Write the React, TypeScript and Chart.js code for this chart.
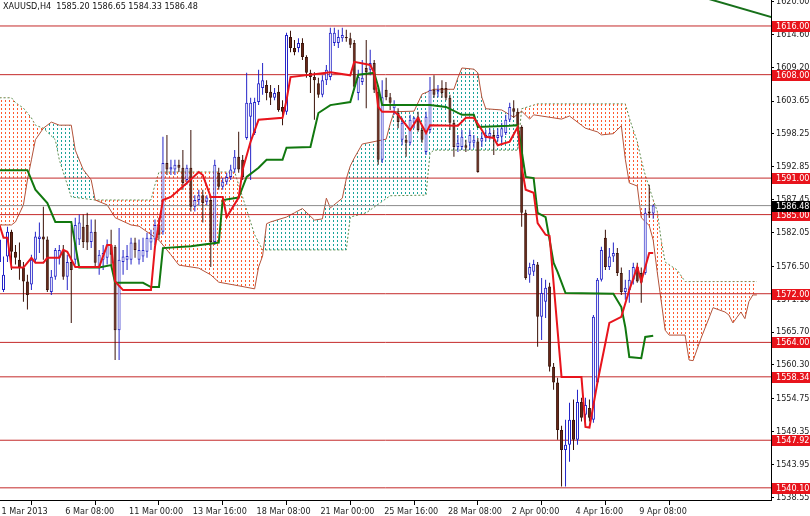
import React, { useEffect, useRef } from 'react';
import { Chart, registerables } from 'chart.js';

Chart.register(...registerables);

const FONT = "'DejaVu Sans Condensed', 'Liberation Sans', Arial, sans-serif";
const TITLE = 'XAUUSD,H4  1585.20 1586.65 1584.33 1586.48';

// ---- candles (H4 bars, index 0 = 1 Mar 16:00) ----
const opens = [
  1577.2,1572.6,1578.1,1582.2,1578.9,1577.6,1576.3,1574.0,1573.5,1577.6,
  1581.0,1581.4,1580.9,1572.3,1574.8,1577.9,1579.2,1574.8,1577.2,1577.6,
  1580.9,1583.0,1583.3,1580.5,1582.2,1576.4,1577.6,1577.9,1580.0,1579.7,
  1566.0,1577.2,1577.6,1577.6,1580.4,1577.6,1578.1,1578.9,1580.4,1580.9,
  1583.3,1582.2,1593.5,1592.4,1592.4,1593.2,1592.7,1590.7,1592.7,1586.3,
  1587.4,1588.2,1587.1,1587.4,1580.5,1591.9,1589.6,1590.4,1591.2,1592.4,
  1594.5,1594.0,1597.6,1601.1,1598.4,1603.5,1605.8,1606.3,1605.2,1604.2,
  1605.2,1602.7,1601.9,1614.2,1612.4,1612.4,1613.2,1610.9,1608.3,1607.6,
  1606.6,1604.7,1607.1,1607.6,1613.2,1613.2,1614.0,1614.2,1614.0,1613.2,
  1605.0,1606.8,1609.1,1608.8,1609.9,1605.2,1594.0,1605.5,1604.3,1602.5,
  1601.7,1597.3,1597.3,1596.8,1600.1,1601.1,1598.9,1595.3,1598.9,1605.5,
  1605.2,1605.8,1605.8,1604.2,1600.1,1596.1,1596.1,1596.4,1596.8,1596.8,
  1597.0,1597.0,1597.6,1597.8,1598.1,1597.6,1597.8,1598.4,1600.6,1602.5,
  1601.9,1599.4,1585.3,1575.1,1575.6,1576.8,1568.2,1570.7,1573.2,1560.0,
  1557.4,1549.6,1546.3,1547.2,1551.3,1548.0,1554.2,1552.1,1553.2,1551.3,
  1557.4,1574.3,1581.2,1576.4,1578.1,1578.7,1575.4,1572.3,1572.6,1574.3,
  1576.4,1575.4,1575.4,1585.5,1585.2,
];
const highs = [
  1582.8,1578.1,1583.0,1582.5,1580.0,1580.4,1577.2,1575.1,1578.4,1582.2,
  1583.7,1586.3,1581.4,1575.9,1579.5,1580.0,1580.0,1578.4,1583.3,1584.5,
  1585.0,1585.0,1585.3,1584.2,1584.2,1579.2,1580.0,1580.9,1582.5,1580.0,
  1582.8,1579.2,1580.0,1581.2,1581.2,1580.9,1581.2,1582.0,1582.5,1584.2,
  1584.5,1597.8,1598.1,1594.0,1594.0,1594.0,1595.6,1593.2,1598.9,1588.2,
  1589.1,1589.1,1588.2,1587.9,1594.0,1592.7,1591.0,1591.9,1593.2,1595.6,
  1598.6,1594.8,1608.3,1604.2,1604.2,1608.8,1609.9,1607.1,1606.3,1605.8,
  1606.3,1603.8,1614.9,1615.2,1613.7,1614.0,1614.0,1611.2,1608.8,1608.4,
  1607.5,1607.9,1609.6,1615.7,1615.7,1615.4,1615.7,1615.4,1614.9,1613.7,
  1608.8,1610.4,1613.7,1612.1,1610.4,1605.8,1607.1,1607.5,1605.0,1603.8,
  1602.5,1600.9,1598.1,1601.4,1601.1,1601.9,1599.7,1601.9,1607.6,1607.9,
  1606.3,1607.1,1606.8,1604.7,1600.6,1598.1,1598.9,1597.3,1598.9,1598.1,
  1597.6,1598.4,1598.9,1599.2,1598.9,1599.2,1600.1,1601.4,1603.4,1603.8,
  1602.5,1599.7,1585.8,1577.1,1577.6,1577.2,1574.6,1574.3,1573.8,1560.6,
  1558.2,1550.3,1551.3,1554.1,1554.6,1556.2,1554.9,1554.9,1554.6,1568.5,
  1574.6,1579.7,1582.5,1579.5,1580.4,1579.5,1576.3,1574.3,1575.9,1577.1,
  1577.1,1576.3,1586.1,1589.9,1586.65,
];
const lows = [
  1575.9,1572.3,1577.2,1575.9,1576.8,1574.3,1570.7,1569.4,1572.6,1577.2,
  1578.7,1577.6,1572.3,1571.8,1574.3,1576.8,1574.3,1572.6,1567.2,1576.8,
  1580.0,1579.5,1579.2,1579.5,1576.3,1575.1,1575.9,1576.8,1576.8,1561.1,
  1561.1,1575.1,1575.9,1576.8,1577.9,1576.8,1577.2,1577.9,1579.2,1580.0,
  1580.9,1581.7,1591.5,1591.5,1591.5,1592.0,1589.1,1589.9,1585.5,1585.5,
  1586.6,1583.7,1586.6,1576.4,1580.0,1589.1,1589.1,1589.9,1590.7,1591.9,
  1591.9,1590.7,1597.3,1590.7,1598.1,1603.0,1604.7,1603.8,1603.0,1603.8,
  1601.9,1599.7,1601.4,1611.7,1611.2,1611.7,1610.4,1607.5,1605.0,1600.6,
  1604.2,1604.3,1606.3,1607.1,1612.7,1612.4,1613.4,1613.4,1612.4,1605.5,
  1603.8,1606.3,1602.5,1607.9,1605.0,1593.2,1593.5,1603.8,1602.2,1601.4,
  1599.2,1596.4,1594.5,1596.4,1599.2,1598.6,1596.8,1594.8,1598.4,1604.2,
  1604.3,1604.2,1603.8,1598.9,1594.5,1595.3,1595.6,1595.3,1595.6,1596.0,
  1591.9,1596.1,1597.0,1597.3,1594.8,1597.0,1596.4,1598.1,1600.2,1600.9,
  1598.9,1583.0,1574.3,1573.8,1574.9,1563.3,1564.4,1568.0,1559.2,1556.2,
  1548.0,1540.3,1540.3,1544.4,1546.3,1547.2,1551.0,1550.8,1551.0,1550.8,
  1557.0,1574.0,1575.9,1575.9,1577.2,1574.9,1571.8,1571.0,1570.5,1573.5,
  1573.8,1570.5,1575.1,1584.5,1584.33,
];
const closes = [
  1580.9,1575.1,1582.2,1578.9,1577.9,1576.4,1574.0,1571.8,1577.6,1581.4,
  1581.4,1580.9,1572.6,1574.8,1579.2,1579.2,1574.8,1577.2,1575.9,1583.3,
  1583.7,1580.5,1580.4,1582.2,1577.1,1578.4,1578.7,1580.0,1578.4,1566.0,
  1577.6,1578.1,1578.2,1580.4,1579.2,1579.2,1579.2,1581.2,1581.2,1583.3,
  1581.7,1593.5,1592.4,1592.8,1593.2,1592.7,1590.2,1592.7,1586.3,1587.4,
  1588.2,1586.9,1587.8,1580.5,1593.2,1589.6,1590.4,1591.2,1592.4,1594.5,
  1592.4,1591.2,1603.4,1603.4,1603.5,1606.6,1607.1,1605.0,1604.2,1605.0,
  1602.2,1601.9,1614.5,1612.4,1611.7,1613.2,1610.9,1608.3,1607.6,1607.1,
  1604.7,1607.1,1608.8,1614.9,1614.9,1614.2,1614.5,1614.0,1612.9,1606.0,
  1607.6,1607.5,1608.4,1609.9,1605.5,1594.0,1604.3,1604.3,1603.4,1603.0,
  1600.2,1600.1,1596.8,1600.6,1600.9,1598.9,1597.3,1601.1,1605.5,1604.7,
  1605.5,1605.0,1604.2,1600.1,1596.1,1596.8,1597.8,1596.0,1598.1,1597.3,
  1592.0,1597.6,1598.1,1598.4,1597.6,1598.1,1599.2,1600.6,1602.7,1601.9,
  1599.7,1585.3,1574.6,1576.4,1576.9,1568.2,1572.1,1573.0,1560.0,1557.4,
  1549.6,1546.3,1547.2,1551.3,1548.0,1554.2,1551.6,1553.7,1551.6,1568.2,
  1574.3,1579.2,1576.4,1578.1,1578.7,1575.4,1572.3,1573.0,1574.3,1576.4,
  1574.0,1573.8,1585.3,1585.2,1586.48,
];

// ---- Ichimoku lines (bar index / price) ----
const tenkanIdx = [0,1,2,3,6,8,9,11,12,15,16,17,19,25,27,28,29,31,38,39,41,43,47,50,51,53,56,57,60,61,63,65,71,72,73,83,88,89,93,94,95,96,99,100,103,105,107,108,115,117,119,121,122,124,125,128,130,131,132,134,135,137,138,141,146,147,148,150,152,153,156,158,160,161,163,164];
const tenkanVal = [1583.3,1581.2,1581.2,1576.3,1576.3,1577.9,1577.1,1577.1,1577.9,1577.9,1579.2,1578.9,1576.4,1576.4,1580.0,1580.0,1574.0,1572.6,1572.6,1579.7,1587.4,1587.9,1590.2,1592.0,1591.5,1587.9,1587.9,1584.6,1587.8,1592.4,1597.0,1600.6,1600.9,1603.8,1607.6,1608.4,1607.9,1610.1,1609.6,1608.3,1602.7,1601.9,1601.9,1601.4,1598.9,1600.9,1598.4,1599.7,1599.6,1600.9,1600.9,1598.9,1597.8,1597.6,1596.4,1597.0,1599.4,1592.8,1589.1,1588.6,1583.6,1581.7,1581.5,1558.3,1558.3,1550.1,1550.0,1557.4,1563.9,1567.2,1568.2,1572.6,1576.4,1574.0,1578.7,1578.7];

const kijunIdx = [0,7,9,12,14,18,20,25,28,29,36,38,40,41,48,55,56,60,62,65,67,71,72,78,80,83,88,90,94,95,96,108,112,116,119,120,128,130,132,134,135,137,139,140,142,154,156,157,158,161,162,164];
const kijunVal = [1592.3,1592.3,1589.1,1586.9,1583.8,1583.8,1576.3,1576.3,1576.7,1573.8,1573.8,1573.1,1573.1,1579.5,1579.8,1580.4,1587.4,1587.8,1591.2,1592.7,1594.0,1594.0,1596.0,1596.1,1601.7,1603.0,1603.5,1608.0,1608.3,1606.0,1603.0,1603.0,1602.7,1601.4,1601.4,1599.4,1599.6,1599.7,1591.2,1591.0,1585.3,1584.6,1577.1,1575.6,1572.1,1572.0,1569.8,1566.5,1561.6,1561.4,1564.9,1565.1];

const spanAIdx = [0,3,4,6,7,8,9,11,13,15,18,19,21,23,24,27,29,33,35,40,43,45,50,53,55,60,64,65,66,67,68,72,74,76,79,81,82,83,86,87,88,89,91,97,98,99,104,106,109,114,115,116,119,120,121,122,126,129,131,133,134,141,143,146,147,150,151,154,156,157,158,160,161,163,164,165,167,168,172,173,174,176,178,179,182,183,184,186,187,188,189,190];
const spanAVal = [1583.3,1583.3,1583.8,1586.6,1590.7,1594.0,1597.3,1599.2,1600.2,1599.7,1599.7,1595.6,1592.4,1590.7,1587.4,1586.6,1584.5,1583.3,1583.1,1580.8,1578.4,1576.7,1576.2,1575.1,1573.9,1573.3,1572.8,1576.4,1578.2,1583.5,1583.8,1584.6,1585.3,1586.0,1584.1,1584.3,1587.7,1586.1,1587.7,1590.9,1593.0,1594.3,1596.6,1597.4,1599.9,1601.9,1602.0,1604.8,1605.6,1605.6,1607.5,1609.1,1608.9,1608.3,1604.3,1602.4,1602.2,1601.0,1602.0,1600.7,1601.4,1600.7,1601.2,1599.7,1599.2,1598.6,1598.1,1598.3,1599.6,1594.1,1590.2,1589.7,1584.5,1583.2,1580.8,1575.6,1566.0,1565.2,1565.2,1561.1,1561.0,1564.7,1568.0,1569.7,1569.0,1568.5,1567.2,1569.0,1567.9,1570.7,1571.8,1571.8];

const spanBIdx = [0,3,4,6,8,9,11,14,15,18,24,38,39,40,59,60,62,64,66,87,88,92,98,107,108,109,130,131,135,157,158,159,160,161,162,163,164,165,166,167,170,172,190];
const spanBVal = [1604.2,1604.2,1603.4,1602.5,1600.9,1599.7,1599.2,1597.3,1594.0,1587.9,1587.4,1587.4,1589.9,1592.0,1592.0,1589.9,1585.8,1581.7,1579.2,1579.2,1584.6,1585.3,1588.1,1588.2,1595.1,1595.6,1595.6,1602.4,1603.2,1603.2,1600.9,1598.9,1597.0,1594.0,1591.5,1589.5,1587.4,1585.6,1580.8,1577.2,1575.9,1574.0,1574.0];

const trendIdx = [175, 195];
const trendVal = [1621.0, 1617.2];

const levels = [1616.0, 1608.0, 1591.0, 1585.0, 1572.0, 1564.0, 1558.34, 1547.92, 1540.1];
const currentPrice = 1586.48;

const yTicks = [1620.0,1614.6,1609.2,1603.65,1598.25,1592.85,1587.45,1582.05,1576.5,1571.1,1565.7,1560.3,1554.75,1549.35,1543.95,1538.55];
const xTickIdx = [0,16,32,48,64,80,96,112,128,144,160];
const xTickLabels = ['1 Mar 2013','6 Mar 08:00','11 Mar 00:00','13 Mar 16:00','18 Mar 08:00','21 Mar 00:00','25 Mar 16:00','28 Mar 08:00','2 Apr 00:00','4 Apr 16:00','9 Apr 08:00'];

const X_MIN = 0.12;
const X_MAX = 193.55;
const Y_MIN = 1538.1;
const Y_MAX = 1620.27;

function makePattern(ctx: CanvasRenderingContext2D, color: string) {
  const c = document.createElement('canvas');
  c.width = 4;
  c.height = 4;
  const g = c.getContext('2d')!;
  g.clearRect(0, 0, 4, 4);
  g.fillStyle = color;
  g.fillRect(1, 0, 1, 2);
  return ctx.createPattern(c, 'repeat')!;
}

const pts = (idx: number[], val: number[]) => idx.map((x, k) => ({ x, y: val[k] }));

// value of the Span B edge at a bar position (straight segments between its points)
function spanBAt(x: number) {
  for (let k = 0; k < spanBIdx.length - 1; k++) {
    const x0 = spanBIdx[k];
    const x1 = spanBIdx[k + 1];
    if (x >= x0 && x <= x1) {
      const t = x1 === x0 ? 0 : (x - x0) / (x1 - x0);
      return spanBVal[k] + t * (spanBVal[k + 1] - spanBVal[k]);
    }
  }
  return spanBVal[spanBVal.length - 1];
}

export default function App() {
  const ref = useRef<HTMLCanvasElement | null>(null);

  useEffect(() => {
    const canvas = ref.current!;
    const ctx = canvas.getContext('2d')!;
    const orangePat = makePattern(ctx, '#ff5a2e');
    const tealPat = makePattern(ctx, '#1aa39a');

    const bull = opens.map((_, i) => i).filter((i) => closes[i] >= opens[i]);
    const bear = opens.map((_, i) => i).filter((i) => closes[i] < opens[i]);

    const BULL = '#2424c8';
    const BEAR_FILL = '#6a2818';
    const BEAR_LINE = '#3a1208';

    const cloudColor = (c: any) => {
      const i0 = c.p0DataIndex;
      const i1 = c.p1DataIndex;
      const xm = (spanAIdx[i0] + spanAIdx[i1]) / 2;
      const am = (spanAVal[i0] + spanAVal[i1]) / 2;
      return am >= spanBAt(xm) ? tealPat : orangePat;
    };

    const datasets: any[] = [];
    datasets.push({
      type: 'line', data: pts(spanAIdx, spanAVal), borderColor: '#b4533a', borderWidth: 1,
      backgroundColor: orangePat,
      pointRadius: 0, tension: 0, fill: { target: '+1', above: tealPat, below: orangePat },
      segment: { backgroundColor: cloudColor }, order: 9,
    });
    datasets.push({
      type: 'line', data: pts(spanBIdx, spanBVal), borderColor: '#5e8c4e', borderWidth: 1,
      borderDash: [2, 2], pointRadius: 0, tension: 0, fill: false, order: 10,
    });
    levels.forEach((l) => {
      datasets.push({
        type: 'line', data: [{ x: -5, y: l }, { x: 200, y: l }], borderColor: '#c42a2a',
        borderWidth: 1, pointRadius: 0, fill: false, order: 8,
      });
    });
    datasets.push({
      type: 'line', data: [{ x: -5, y: currentPrice }, { x: 200, y: currentPrice }], borderColor: '#8c8c8c',
      borderWidth: 1, pointRadius: 0, fill: false, order: 8,
    });
    datasets.push({
      type: 'bar', data: bull.map((i) => ({ x: i, y: [lows[i], highs[i]] })), backgroundColor: BULL,
      barThickness: 1, grouped: false, borderWidth: 0, inflateAmount: 0, order: 6,
    });
    datasets.push({
      type: 'bar', data: bear.map((i) => ({ x: i, y: [lows[i], highs[i]] })), backgroundColor: BEAR_LINE,
      barThickness: 1, grouped: false, borderWidth: 0, inflateAmount: 0, order: 6,
    });
    datasets.push({
      type: 'bar', data: bull.map((i) => ({ x: i, y: [opens[i], closes[i]] })), backgroundColor: '#ffffff',
      borderColor: BULL, borderWidth: 1, borderSkipped: false, barThickness: 3, grouped: false, inflateAmount: 0, order: 5,
    });
    datasets.push({
      type: 'bar', data: bear.map((i) => ({ x: i, y: [opens[i], closes[i]] })), backgroundColor: BEAR_FILL,
      borderColor: BEAR_LINE, borderWidth: 1, borderSkipped: false, barThickness: 3, grouped: false, inflateAmount: 0, order: 5,
    });
    datasets.push({
      type: 'line', data: pts(kijunIdx, kijunVal), borderColor: '#11780f', borderWidth: 2,
      pointRadius: 0, tension: 0, fill: false, order: 3,
    });
    datasets.push({
      type: 'line', data: pts(tenkanIdx, tenkanVal), borderColor: '#e8141c', borderWidth: 2,
      pointRadius: 0, tension: 0, fill: false, order: 2,
    });
    datasets.push({
      type: 'line', data: pts(trendIdx, trendVal), borderColor: '#17701a', borderWidth: 2,
      pointRadius: 0, tension: 0, fill: false, order: 1,
    });

    const overlay = {
      id: 'overlay',
      afterDraw(chart: any) {
        const c = chart.ctx;
        const area = chart.chartArea;
        const ys = chart.scales.y;
        c.save();
        c.font = `9px ${FONT}`;
        c.textBaseline = 'middle';
        c.textAlign = 'left';
        const box = (v: number, bg: string) => {
          const py = Math.round(ys.getPixelForValue(v));
          c.fillStyle = bg;
          c.fillRect(area.right + 1, py - 5, 40, 11);
          c.fillStyle = '#ffffff';
          c.fillText(v.toFixed(2), area.right + 5, py + 0.5);
        };
        levels.forEach((l) => box(l, '#e8141c'));
        box(currentPrice, '#000000');
        c.fillStyle = '#111111';
        c.fillText(TITLE, 3, 7);
        c.restore();
      },
    };

    const chart = new Chart(ctx, {
      type: 'bar',
      data: { datasets },
      options: {
        animation: false,
        responsive: false,
        maintainAspectRatio: false,
        events: [],
        layout: { padding: 0, autoPadding: false },
        plugins: { legend: { display: false }, tooltip: { enabled: false }, title: { display: false } },
        scales: {
          x: {
            type: 'linear', min: X_MIN, max: X_MAX, offset: false,
            grid: { display: true, drawOnChartArea: false, drawTicks: true, tickLength: 5, color: '#000' },
            border: { display: true, color: '#000', width: 1 },
            ticks: {
              autoSkip: false, maxRotation: 0, minRotation: 0, align: 'start', labelOffset: 2, padding: 1,
              color: '#222', font: { family: FONT, size: 9 },
              callback: (_v: any, i: number) => xTickLabels[i] ?? '',
            },
            afterBuildTicks: (s: any) => { s.ticks = xTickIdx.map((v) => ({ value: v })); },
            afterFit: (s: any) => { s.height = 16; s.paddingLeft = 0; s.paddingRight = 0; },
          },
          y: {
            type: 'linear', position: 'right', min: Y_MIN, max: Y_MAX,
            grid: { display: true, drawOnChartArea: false, drawTicks: true, tickLength: 3, color: '#000' },
            border: { display: true, color: '#000', width: 1 },
            ticks: {
              autoSkip: false, padding: 2, color: '#222', font: { family: FONT, size: 9 },
              callback: (v: any) => Number(v).toFixed(2),
            },
            afterBuildTicks: (s: any) => { s.ticks = yTicks.map((v) => ({ value: v })); },
            afterFit: (s: any) => { s.width = 39; s.paddingTop = 0; s.paddingBottom = 0; },
          },
        },
      } as any,
      plugins: [overlay],
    } as any);

    return () => chart.destroy();
  }, []);

  return (
    <div style={{ position: 'fixed', left: 0, top: 0, width: 810, height: 516, background: '#ffffff' }}>
      <canvas ref={ref} width={810} height={516} style={{ display: 'block', width: 810, height: 516 }} />
    </div>
  );
}
